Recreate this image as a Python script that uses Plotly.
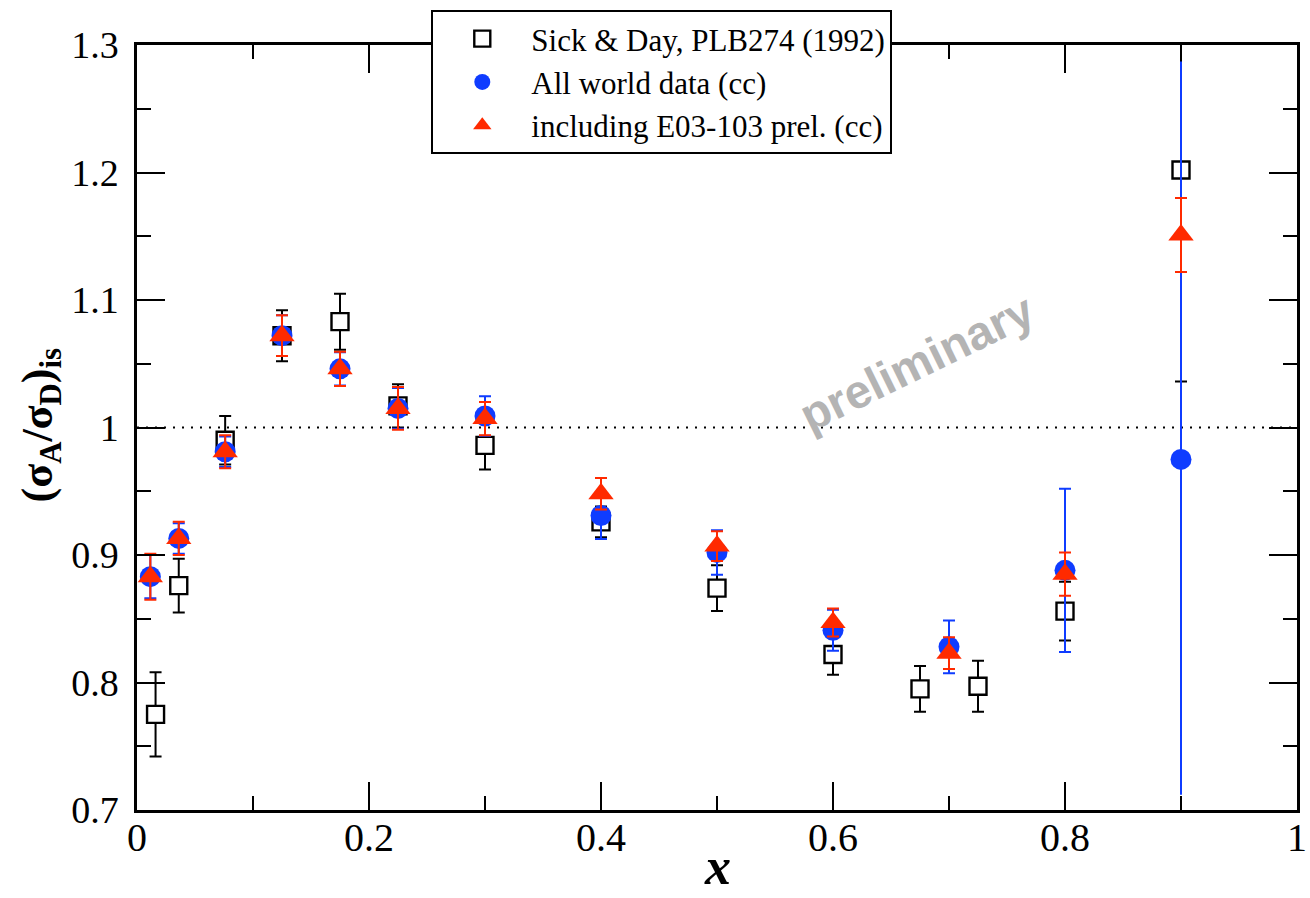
import plotly.graph_objects as go

# Sick & Day, PLB274 (1992)
sd_x = [0.016, 0.036, 0.076, 0.125, 0.175, 0.225, 0.30, 0.40, 0.50, 0.60, 0.675, 0.725, 0.80, 0.90]
sd_y = [0.775, 0.876, 0.990, 1.072, 1.083, 1.017, 0.986, 0.926, 0.874, 0.822, 0.795, 0.797, 0.856, 1.202]
sd_err = [0.033, 0.021, 0.019, 0.020, 0.022, 0.017, 0.019, 0.012, 0.018, 0.016, 0.018, 0.020, 0.023, 0.166]

# All world data (cc)
wd_x = [0.0115, 0.036, 0.076, 0.125, 0.175, 0.225, 0.30, 0.40, 0.50, 0.60, 0.70, 0.80, 0.90]
wd_y = [0.883, 0.913, 0.981, 1.072, 1.046, 1.015, 1.009, 0.931, 0.902, 0.841, 0.828, 0.888, 0.975]
wd_err_plus = [0.017, 0.012, 0.012, 0.016, 0.013, 0.016, 0.0155, 0.0185, 0.0175, 0.016, 0.0207, 0.064, 0.312]
wd_err_minus = [0.017, 0.012, 0.012, 0.016, 0.013, 0.016, 0.0155, 0.0185, 0.0175, 0.016, 0.0207, 0.064, 0.263]

# including E03-103 prel. (cc)
e03_x = [0.0115, 0.036, 0.076, 0.125, 0.175, 0.225, 0.30, 0.40, 0.50, 0.60, 0.70, 0.80, 0.90]
e03_y = [0.883, 0.913, 0.981, 1.072, 1.046, 1.015, 1.007, 0.948, 0.907, 0.847, 0.823, 0.885, 1.151]
e03_err = [0.018, 0.013, 0.013, 0.016, 0.0135, 0.0167, 0.013, 0.0124, 0.0117, 0.011, 0.0125, 0.017, 0.029]

x_ticks = [0, 0.2, 0.4, 0.6, 0.8, 1.0]
x_tick_text = ["0", "0.2", "0.4", "0.6", "0.8", "1"]
y_ticks = [0.7, 0.8, 0.9, 1.0, 1.1, 1.2, 1.3]
y_tick_text = ["0.7", "0.8", "0.9", "1", "1.1", "1.2", "1.3"]

BLUE = "#0f3cff"
RED = "#ff2a00"
SERIF = "Liberation Serif, Times New Roman, serif"

fig = go.Figure()

fig.add_trace(go.Scatter(
    x=sd_x, y=sd_y, mode="markers", name="Sick & Day, PLB274 (1992)",
    marker=dict(symbol="square", size=17, color="white", line=dict(color="black", width=2.4)),
    error_y=dict(type="data", array=sd_err, color="black", thickness=2, width=6),
))

# world data: the last point has an error bar running off the frame, drawn without caps
n = len(wd_x) - 1
fig.add_trace(go.Scatter(
    x=wd_x[:n], y=wd_y[:n], mode="markers", name="All world data (cc)",
    marker=dict(symbol="circle", size=21, color=BLUE, line=dict(width=0)),
    error_y=dict(type="data", array=wd_err_plus[:n], arrayminus=wd_err_minus[:n],
                 color=BLUE, thickness=2, width=6),
))
fig.add_trace(go.Scatter(
    x=wd_x[n:], y=wd_y[n:], mode="markers", name="All world data (cc)",
    showlegend=False,
    marker=dict(symbol="circle", size=21, color=BLUE, line=dict(width=0)),
    error_y=dict(type="data", array=wd_err_plus[n:], arrayminus=wd_err_minus[n:],
                 color=BLUE, thickness=2, width=0),
))

fig.add_trace(go.Scatter(
    x=e03_x, y=e03_y, mode="markers", name="including E03-103 prel. (cc)",
    marker=dict(symbol="triangle-up", size=22, color=RED, line=dict(width=0)),
    error_y=dict(type="data", array=e03_err, color=RED, thickness=2, width=6),
))

fig.add_hline(y=1.0, line=dict(color="black", width=2, dash="2px,7px"), layer="below")

axis_common = dict(
    showline=True, linecolor="black", linewidth=2.5, mirror="ticks",
    ticks="inside", ticklen=28, tickwidth=2, tickcolor="black",
    showgrid=False, zeroline=False,
)

# x tick labels sit close under the frame, so they are placed as annotations below
fig.update_xaxes(
    range=[0, 1], tickvals=x_ticks, showticklabels=False,
    minor=dict(dtick=0.1, tick0=0, ticklen=14, tickwidth=2, ticks="inside", tickcolor="black"),
    **axis_common,
)
fig.update_yaxes(
    range=[0.7, 1.3], tickvals=y_ticks, ticktext=y_tick_text,
    minor=dict(dtick=0.05, tick0=0.7, ticklen=14, tickwidth=2, ticks="inside", tickcolor="black"),
    ticklabelstandoff=8,
    tickfont=dict(family=SERIF, size=38, color="black"),
    **axis_common,
)

for xv, label in zip(x_ticks, x_tick_text):
    fig.add_annotation(
        text=label, x=xv, xref="x", y=-0.0353, yref="paper",
        xanchor="center", yanchor="middle", showarrow=False,
        font=dict(family=SERIF, size=40, color="black"),
    )

fig.add_annotation(
    text="<b>(σ<sub>A</sub>/σ<sub>D</sub>)<sub>is</sub></b>",
    xref="paper", yref="paper", x=-0.0834, y=0.503, xanchor="center", yanchor="middle",
    textangle=-90, showarrow=False,
    font=dict(family=SERIF, size=44, color="black"),
)
fig.add_annotation(
    text="<b><i>x</i></b>",
    xref="paper", yref="paper", x=0.5, y=-0.1137, xanchor="center", yanchor="bottom",
    showarrow=False,
    font=dict(family=SERIF, size=52, color="black"),
)
fig.add_annotation(
    text="<b>preliminary</b>",
    xref="paper", yref="paper", x=0.672, y=0.585, xanchor="center", yanchor="middle",
    textangle=-26, showarrow=False,
    font=dict(family="Liberation Sans, Arial, sans-serif", size=47, color="#b4b4b4"),
)

fig.update_layout(
    width=1310, height=898,
    margin=dict(l=137, r=10, t=45, b=88),
    paper_bgcolor="white", plot_bgcolor="white",
    legend=dict(
        x=0.2537, y=1.0458, xanchor="left", yanchor="top",
        bgcolor="white", bordercolor="black", borderwidth=2,
        font=dict(family=SERIF, size=31, color="black"),
        itemwidth=88, tracegroupgap=0,
    ),
)

fig.write_html("out.html")
